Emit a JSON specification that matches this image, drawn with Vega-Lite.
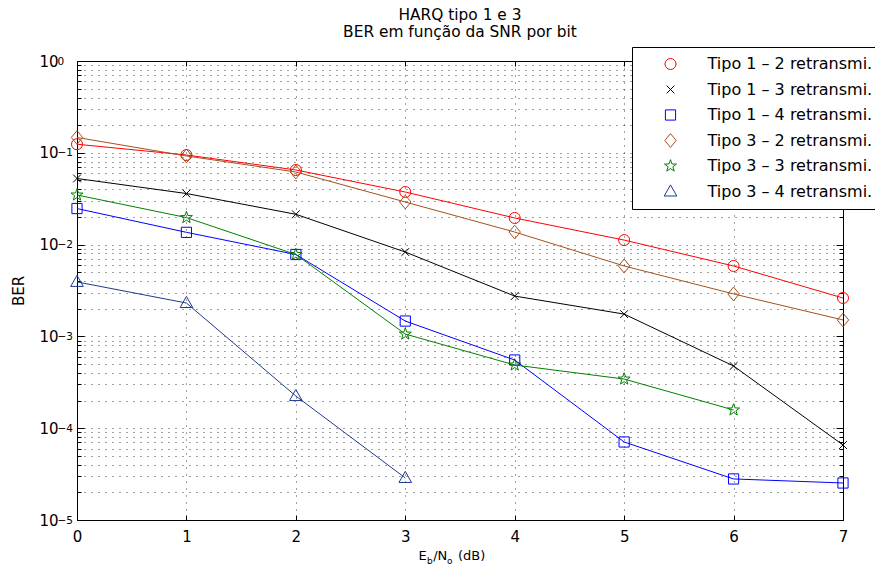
{
  "$schema": "https://vega.github.io/schema/vega-lite/v6.json",
  "autosize": {"type": "none"},
  "width": 766,
  "height": 459,
  "padding": {"left": 77, "top": 61, "right": 32, "bottom": 55},
  "background": "white",
  "config": {
    "font": "DejaVu Sans",
    "view": {"stroke": "black", "strokeWidth": 1},
    "legend": {
      "orient": "none",
      "legendX": 555,
      "legendY": -14,
      "strokeColor": "black",
      "fillColor": "white",
      "padding": 8,
      "symbolSize": 144,
      "symbolStrokeWidth": 1,
      "symbolOffset": 22.5,
      "labelOffset": 29,
      "clipHeight": 18,
      "rowPadding": 7.5,
      "labelFont": "DejaVu Sans",
      "labelFontSize": 16,
      "labelColor": "black",
      "labelLimit": 400,
      "labelBaseline": "middle"
    }
  },
  "title": {
    "text": ["HARQ tipo 1 e 3", "BER em função da SNR por bit"],
    "font": "DejaVu Sans",
    "fontSize": 15.4,
    "fontWeight": "normal",
    "color": "black",
    "lineHeight": 17,
    "offset": 6,
    "anchor": "middle"
  },
  "data": {
    "values": [
      {"s": "Tipo 1 – 2 retransmi.", "x": 0, "ber": 0.124},
      {"s": "Tipo 1 – 2 retransmi.", "x": 1, "ber": 0.0946},
      {"s": "Tipo 1 – 2 retransmi.", "x": 2, "ber": 0.065},
      {"s": "Tipo 1 – 2 retransmi.", "x": 3, "ber": 0.0374},
      {"s": "Tipo 1 – 2 retransmi.", "x": 4, "ber": 0.0195},
      {"s": "Tipo 1 – 2 retransmi.", "x": 5, "ber": 0.0112},
      {"s": "Tipo 1 – 2 retransmi.", "x": 6, "ber": 0.00585},
      {"s": "Tipo 1 – 2 retransmi.", "x": 7, "ber": 0.00262},
      {"s": "Tipo 1 – 3 retransmi.", "x": 0, "ber": 0.0525},
      {"s": "Tipo 1 – 3 retransmi.", "x": 1, "ber": 0.036},
      {"s": "Tipo 1 – 3 retransmi.", "x": 2, "ber": 0.0214},
      {"s": "Tipo 1 – 3 retransmi.", "x": 3, "ber": 0.0083},
      {"s": "Tipo 1 – 3 retransmi.", "x": 4, "ber": 0.00275},
      {"s": "Tipo 1 – 3 retransmi.", "x": 5, "ber": 0.00175},
      {"s": "Tipo 1 – 3 retransmi.", "x": 6, "ber": 0.000476},
      {"s": "Tipo 1 – 3 retransmi.", "x": 7, "ber": 0.0000656},
      {"s": "Tipo 1 – 4 retransmi.", "x": 0, "ber": 0.0247},
      {"s": "Tipo 1 – 4 retransmi.", "x": 1, "ber": 0.0136},
      {"s": "Tipo 1 – 4 retransmi.", "x": 2, "ber": 0.0078},
      {"s": "Tipo 1 – 4 retransmi.", "x": 3, "ber": 0.00147},
      {"s": "Tipo 1 – 4 retransmi.", "x": 4, "ber": 0.000553},
      {"s": "Tipo 1 – 4 retransmi.", "x": 5, "ber": 0.0000708},
      {"s": "Tipo 1 – 4 retransmi.", "x": 6, "ber": 0.000028},
      {"s": "Tipo 1 – 4 retransmi.", "x": 7, "ber": 0.0000253},
      {"s": "Tipo 3 – 2 retransmi.", "x": 0, "ber": 0.147},
      {"s": "Tipo 3 – 2 retransmi.", "x": 1, "ber": 0.0923},
      {"s": "Tipo 3 – 2 retransmi.", "x": 2, "ber": 0.0618},
      {"s": "Tipo 3 – 2 retransmi.", "x": 3, "ber": 0.0291},
      {"s": "Tipo 3 – 2 retransmi.", "x": 4, "ber": 0.0137},
      {"s": "Tipo 3 – 2 retransmi.", "x": 5, "ber": 0.00585},
      {"s": "Tipo 3 – 2 retransmi.", "x": 6, "ber": 0.0029},
      {"s": "Tipo 3 – 2 retransmi.", "x": 7, "ber": 0.00151},
      {"s": "Tipo 3 – 3 retransmi.", "x": 0, "ber": 0.0347},
      {"s": "Tipo 3 – 3 retransmi.", "x": 1, "ber": 0.0197},
      {"s": "Tipo 3 – 3 retransmi.", "x": 2, "ber": 0.0078},
      {"s": "Tipo 3 – 3 retransmi.", "x": 3, "ber": 0.00106},
      {"s": "Tipo 3 – 3 retransmi.", "x": 4, "ber": 0.000488},
      {"s": "Tipo 3 – 3 retransmi.", "x": 5, "ber": 0.000343},
      {"s": "Tipo 3 – 3 retransmi.", "x": 6, "ber": 0.000158},
      {"s": "Tipo 3 – 4 retransmi.", "x": 0, "ber": 0.00392},
      {"s": "Tipo 3 – 4 retransmi.", "x": 1, "ber": 0.00231},
      {"s": "Tipo 3 – 4 retransmi.", "x": 2, "ber": 0.000224},
      {"s": "Tipo 3 – 4 retransmi.", "x": 3, "ber": 0.0000287}
    ]
  },
  "resolve": {"axis": {"x": "independent", "y": "independent"}},
  "layer": [
    {
      "mark": {"type": "point", "filled": false, "strokeWidth": 1, "size": 144, "opacity": 1},
      "encoding": {
        "x": {
          "field": "x", "type": "quantitative",
          "scale": {"domain": [0, 7], "nice": false, "zero": false},
          "axis": {
            "orient": "top",
            "values": [0, 1, 2, 3, 4, 5, 6, 7],
            "labels": false,
            "domain": false,
            "grid": false,
            "tickSize": -5,
            "tickColor": "black",
            "title": null
          }
        },
        "y": {
          "field": "ber", "type": "quantitative",
          "scale": {"type": "log", "domain": [0.00001, 1], "nice": false},
          "axis": {
            "orient": "right",
            "values": [0.00001, 0.00002, 0.00003, 0.00004, 0.00005, 0.00006, 0.00007, 0.00008, 0.00009,
                       0.0001, 0.0002, 0.0003, 0.0004, 0.0005, 0.0006, 0.0007, 0.0008, 0.0009,
                       0.001, 0.002, 0.003, 0.004, 0.005, 0.006, 0.007, 0.008, 0.009,
                       0.01, 0.02, 0.03, 0.04, 0.05, 0.06, 0.07, 0.08, 0.09,
                       0.1, 0.2, 0.3, 0.4, 0.5, 0.6, 0.7, 0.8, 0.9, 1],
            "labels": false,
            "domain": false,
            "grid": false,
            "tickColor": "black",
            "tickSize": {"condition": {"test": "abs(log(datum.value)/LN10 - round(log(datum.value)/LN10)) < 0.000001", "value": -7}, "value": -4},
            "title": null
          }
        },
        "shape": {
          "field": "s", "type": "nominal",
          "scale": {
            "domain": ["Tipo 1 – 2 retransmi.", "Tipo 1 – 3 retransmi.", "Tipo 1 – 4 retransmi.", "Tipo 3 – 2 retransmi.", "Tipo 3 – 3 retransmi.", "Tipo 3 – 4 retransmi."],
            "range": [
              "M0.92,0A0.92,0.92,0,1,1,-0.92,0A0.92,0.92,0,1,1,0.92,0Z",
              "M-0.65,-0.65L0.65,0.65M-0.65,0.65L0.65,-0.65",
              "M-0.85,-0.85L0.85,-0.85L0.85,0.85L-0.85,0.85Z",
              "M0,-1.15L0.95,0L0,1.15L-0.95,0Z",
              "M0,-1.05L0.247,-0.34L0.999,-0.324L0.399,0.13L0.617,0.849L0,0.42L-0.617,0.849L-0.399,0.13L-0.999,-0.324L-0.247,-0.34Z",
              "M0,-1.1L1.05,0.75L-1.05,0.75Z"
            ]
          },
          "legend": {"title": null}
        },
        "color": {
          "field": "s", "type": "nominal",
          "scale": {
            "domain": ["Tipo 1 – 2 retransmi.", "Tipo 1 – 3 retransmi.", "Tipo 1 – 4 retransmi.", "Tipo 3 – 2 retransmi.", "Tipo 3 – 3 retransmi.", "Tipo 3 – 4 retransmi."],
            "range": ["#ff0000", "#000000", "#0000ff", "#a5501e", "#008000", "#1f3a8c"]
          },
          "legend": {"title": null}
        }
      }
    },
    {
      "transform": [{"filter": "indexof(datum.s, 'Tipo 1') == 0"}],
      "mark": {"type": "line", "strokeWidth": 1},
      "encoding": {
        "x": {
          "field": "x", "type": "quantitative",
          "axis": {
            "orient": "bottom",
            "values": [0, 1, 2, 3, 4, 5, 6, 7],
            "domain": false,
            "tickSize": -5,
            "tickColor": "black",
            "labelPadding": 14,
            "labelFlush": false,
            "labelOverlap": false,
            "labelFont": "DejaVu Sans",
            "labelFontSize": 15,
            "labelColor": "black",
            "grid": true,
            "gridDash": [1, 6],
            "gridColor": "black",
            "gridOpacity": 0.75,
            "title": "E\u2002/N\u2002\u00a0(dB)",
            "titleFont": "DejaVu Sans",
            "titleFontSize": 13,
            "titleFontWeight": "normal",
            "titleColor": "black",
            "titleBaseline": "alphabetic",
            "titleAlign": "left",
            "titleAnchor": "start",
            "titleX": 341,
            "titleY": 39
          }
        },
        "y": {
          "field": "ber", "type": "quantitative",
          "axis": {
            "orient": "left",
            "values": [0.00001, 0.00002, 0.00003, 0.00004, 0.00005, 0.00006, 0.00007, 0.00008, 0.00009,
                       0.0001, 0.0002, 0.0003, 0.0004, 0.0005, 0.0006, 0.0007, 0.0008, 0.0009,
                       0.001, 0.002, 0.003, 0.004, 0.005, 0.006, 0.007, 0.008, 0.009,
                       0.01, 0.02, 0.03, 0.04, 0.05, 0.06, 0.07, 0.08, 0.09,
                       0.1, 0.2, 0.3, 0.4, 0.5, 0.6, 0.7, 0.8, 0.9, 1],
            "domain": false,
            "tickColor": "black",
            "tickSize": {"condition": {"test": "abs(log(datum.value)/LN10 - round(log(datum.value)/LN10)) < 0.000001", "value": -7}, "value": -4},
            "labelExpr": "abs(log(datum.value)/LN10 - round(log(datum.value)/LN10)) < 0.000001 ? '10' : ''",
            "labelAlign": "left",
            "labelBaseline": "middle",
            "labelPadding": 45,
            "labelFlush": false,
            "labelOverlap": false,
            "labelFont": "DejaVu Sans",
            "labelFontSize": 15,
            "labelColor": "black",
            "grid": true,
            "gridDash": [1, 6],
            "gridColor": "black",
            "gridOpacity": 0.75,
            "title": "BER",
            "titleFont": "DejaVu Sans",
            "titleFontSize": 15,
            "titleFontWeight": "normal",
            "titleColor": "black",
            "titleBaseline": "alphabetic",
            "titleX": -54,
            "titleY": 229.5
          }
        },
        "color": {"field": "s", "type": "nominal"}
      }
    },
    {
      "transform": [{"filter": "indexof(datum.s, 'Tipo 3') == 0"}],
      "mark": {"type": "line", "strokeWidth": 1},
      "encoding": {
        "x": {
          "field": "x", "type": "quantitative",
          "axis": {
            "orient": "bottom",
            "labels": false,
            "ticks": false,
            "domain": false,
            "grid": false,
            "title": "b\u00a0\u00a0\u00a0\u00a0\u00a0o",
            "titleFont": "DejaVu Sans",
            "titleFontSize": 9,
            "titleFontWeight": "normal",
            "titleColor": "black",
            "titleBaseline": "alphabetic",
            "titleAlign": "left",
            "titleAnchor": "start",
            "titleX": 349.5,
            "titleY": 43
          }
        },
        "y": {
          "field": "ber", "type": "quantitative",
          "axis": {
            "orient": "left",
            "values": [0.00001, 0.0001, 0.001, 0.01, 0.1, 1],
            "ticks": false,
            "domain": false,
            "grid": false,
            "labelExpr": "datum.value == 1 ? '0' : datum.value == 0.1 ? '\u22121' : datum.value == 0.01 ? '\u22122' : datum.value == 0.001 ? '\u22123' : datum.value == 0.0001 ? '\u22124' : '\u22125'",
            "labelAlign": "left",
            "labelBaseline": "middle",
            "labelDy": -8,
            "labelPadding": 20,
            "labelFlush": false,
            "labelOverlap": false,
            "labelFont": "DejaVu Sans",
            "labelFontSize": 10.5,
            "labelColor": "black",
            "title": null
          }
        },
        "color": {"field": "s", "type": "nominal"}
      }
    }
  ]
}
